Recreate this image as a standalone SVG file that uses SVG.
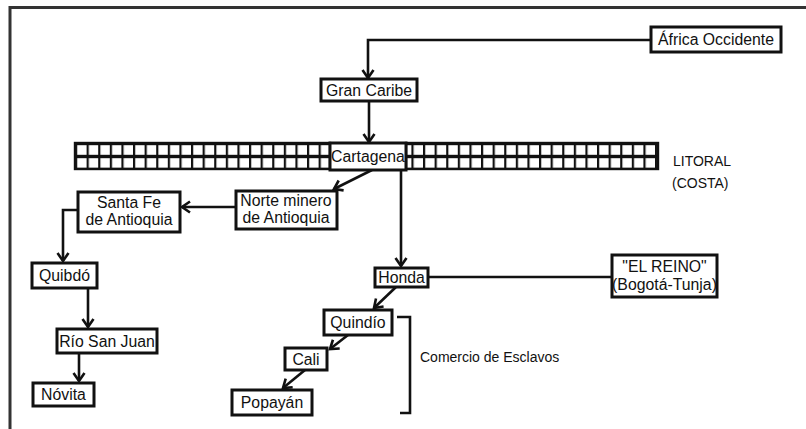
<svg xmlns="http://www.w3.org/2000/svg" width="806" height="429" viewBox="0 0 806 429">
<defs>
<marker id="arr" markerUnits="userSpaceOnUse" markerWidth="16" markerHeight="16" viewBox="-2 -2 16 16" refX="9" refY="6" orient="auto">
<path d="M1,0.5 L9,6 L1,11.5" fill="none" stroke="#111" stroke-width="2.6"/>
</marker>
<pattern id="grid" x="75" y="143" width="11.6" height="13" patternUnits="userSpaceOnUse">
<rect width="11.6" height="13" fill="#111"/>
<rect x="2.2" y="2.2" width="9.4" height="9.6" fill="#fff"/>
</pattern>
</defs>
<style>
.box{fill:#fff;stroke:#111;stroke-width:3}
.t{font-family:"Liberation Sans",Arial,sans-serif;font-size:15.8px;fill:#111;text-anchor:middle}
.l{font-family:"Liberation Sans",Arial,sans-serif;font-size:14px;fill:#111}
.c{fill:none;stroke:#111;stroke-width:2.6}
.ca{fill:none;stroke:#111;stroke-width:2.6;marker-end:url(#arr)}
</style>
<rect width="806" height="429" fill="#fff"/>
<path d="M10,429 V7.5 H806" fill="none" stroke="#333" stroke-width="3"/>

<g id="litoral">
<rect x="75" y="143" width="255" height="26" fill="url(#grid)" stroke="#111" stroke-width="2.4"/>
<rect x="406" y="143" width="252" height="26" fill="url(#grid)" stroke="#111" stroke-width="2.4"/>
<text class="l" x="673" y="166" font-size="14.5">LITORAL</text>
<text class="l" x="672" y="188" font-size="14.5">(COSTA)</text>
</g>

<g id="connectors">
<path class="ca" d="M651,40 H368 V78"/>
<path class="ca" d="M369,101 V142"/>
<path class="ca" d="M372,170 L334,189"/>
<path class="ca" d="M401,170 V266"/>
<path class="ca" d="M236,207 H182"/>
<path class="ca" d="M78,210 H63 V261"/>
<path class="ca" d="M88,288 V327"/>
<path class="ca" d="M79,353 V381"/>
<path class="c" d="M428,277 H612"/>
<path class="ca" d="M396,287 L374,308"/>
<path class="ca" d="M348,335 L330,349"/>
<path class="ca" d="M305,370 L283,388"/>
<path class="c" d="M397,317 H410 V413 H400" stroke-width="3"/>
</g>

<g id="africa"><rect class="box" x="651" y="27" width="130" height="25"/><text class="t" x="716" y="45">África Occidente</text></g>
<g id="granCaribe"><rect class="box" x="321" y="79" width="96" height="22"/><text class="t" x="369" y="96">Gran Caribe</text></g>
<g id="cartagena"><rect class="box" x="330" y="143" width="76" height="27"/><text class="t" x="368" y="162">Cartagena</text></g>
<g id="norte"><rect class="box" x="236" y="191" width="101" height="38"/><text class="t" x="286" y="206">Norte minero</text><text class="t" x="286" y="223">de Antioquia</text></g>
<g id="santaFe"><rect class="box" x="78" y="192" width="102" height="40"/><text class="t" x="129" y="208">Santa Fe</text><text class="t" x="129" y="225">de Antioquia</text></g>
<g id="quibdo"><rect class="box" x="32" y="263" width="65" height="25"/><text class="t" x="64.5" y="281">Quibdó</text></g>
<g id="rioSanJuan"><rect class="box" x="57" y="329" width="100" height="24"/><text class="t" x="107" y="347">Río San Juan</text></g>
<g id="novita"><rect class="box" x="33" y="383" width="61" height="23"/><text class="t" x="63.5" y="400">Nóvita</text></g>
<g id="honda"><rect class="box" x="375" y="268" width="53" height="19"/><text class="t" x="401.5" y="283">Honda</text></g>
<g id="elReino"><rect class="box" x="612" y="255" width="105" height="42"/><text class="t" x="664.5" y="272">"EL REINO"</text><text class="t" x="664.5" y="290">(Bogotá-Tunja)</text></g>
<g id="quindio"><rect class="box" x="324" y="310" width="68" height="25"/><text class="t" x="358" y="328">Quindío</text></g>
<g id="cali"><rect class="box" x="285" y="348" width="42" height="22"/><text class="t" x="306" y="365">Cali</text></g>
<g id="popayan"><rect class="box" x="232" y="390" width="80" height="25"/><text class="t" x="272" y="408">Popayán</text></g>
<g id="comercio"><text class="l" x="420" y="362">Comercio de Esclavos</text></g>
</svg>
